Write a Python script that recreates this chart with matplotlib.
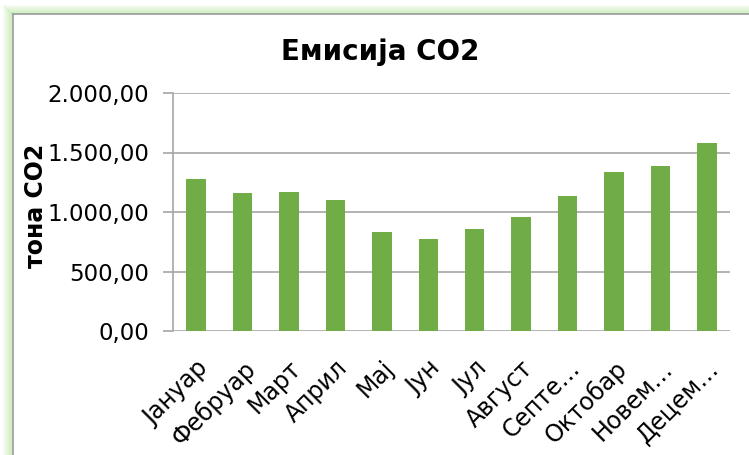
import matplotlib.pyplot as plt
from matplotlib.patches import Rectangle
from matplotlib.lines import Line2D
from matplotlib.ticker import FuncFormatter, MultipleLocator

plt.rcParams['font.family'] = ['DejaVu Sans']

# monthly CO2 emissions (tons)
months = ['Јануар', 'Фебруар', 'Март', 'Април', 'Мај', 'Јун', 'Јул',
          'Август', 'Септе…', 'Октобар', 'Новем…', 'Децем…']
emissions = [1280, 1160, 1171, 1098, 835, 770, 857, 955, 1137, 1333, 1387, 1582]

W, H = 749, 455
fig = plt.figure(figsize=(W / 100, H / 100), dpi=100)

# green glow frame around the chart area (left and top edges)
for i in range(9):
    a = 0.12 + 0.07 * i
    fig.patches.append(Rectangle((3 + i, 0), 1, H - 5 - i, transform=None,
                                 facecolor='#b8e6a0', edgecolor='none', alpha=a))
    fig.patches.append(Rectangle((3 + i, H - 5 - i - 1), W, 1, transform=None,
                                 facecolor='#b8e6a0', edgecolor='none', alpha=a))
fig.lines.append(Line2D([13 / W, 13 / W], [0, 1 - 14 / H], transform=fig.transFigure,
                        color='#9a9a9a', lw=1.2))
fig.lines.append(Line2D([13 / W, 1], [1 - 14 / H, 1 - 14 / H], transform=fig.transFigure,
                        color='#9a9a9a', lw=1.2))

ax = fig.add_axes([173 / W, 1 - 331 / H, (730 - 173) / W, (331 - 93) / H])
x = range(len(months))
ax.bar(x, emissions, width=0.42, color='#70ad47', zorder=3)

ax.set_xlim(-0.5, len(months) - 0.5)
ax.set_ylim(0, 2000)
ax.yaxis.set_major_locator(MultipleLocator(500))
fmt = lambda v, p: f'{v:,.2f}'.replace(',', ' ').replace('.', ',').replace(' ', '.')
ax.yaxis.set_major_formatter(FuncFormatter(fmt))
ax.grid(axis='y', color='#a6a6a6', lw=1.2, zorder=0)

for s in ['top', 'right', 'bottom']:
    ax.spines[s].set_visible(False)
ax.spines['left'].set_color('#a6a6a6')
ax.spines['left'].set_linewidth(1.2)

ax.tick_params(axis='y', length=7, width=1.2, color='#a6a6a6', labelsize=16.5, pad=10)
ax.tick_params(axis='x', length=0, labelsize=17, pad=18)
ax.set_xticks(list(x))
ax.set_xticklabels(months, rotation=45, ha='right', rotation_mode='anchor')

fig.text(36 / W, 1 - 206 / H, 'тона CO2', rotation=90, fontsize=17, fontweight='bold',
         ha='center', va='center')
fig.text(380 / W, 1 - 52 / H, 'Емисија CO2', fontsize=20, fontweight='bold',
         ha='center', va='center')

fig.savefig('out.png', dpi=100, facecolor='white')
